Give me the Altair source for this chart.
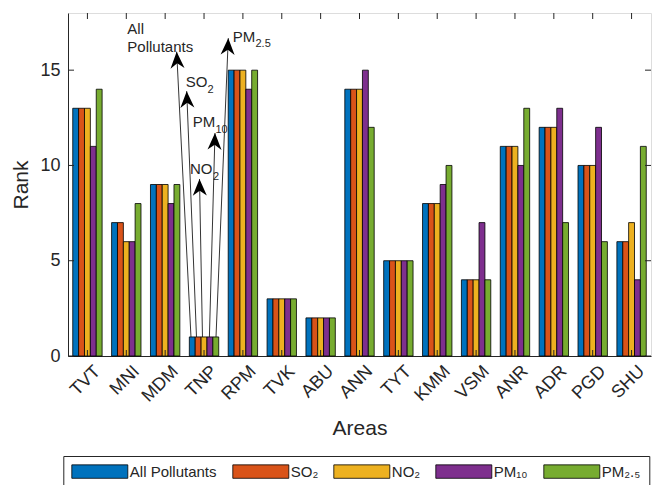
import math
import altair as alt
import pandas as pd

# ---------------- data ----------------
areas = ["TVT", "MNI", "MDM", "TNP", "RPM", "TVK", "ABU", "ANN", "TYT", "KMM",
         "VSM", "ANR", "ADR", "PGD", "SHU"]
series = ["All Pollutants", "SO₂", "NO₂", "PM₁₀", "PM₂.₅"]
all_pollutants = [13, 7, 9, 1, 15, 3, 2, 14, 5, 8, 4, 11, 12, 10, 6]
so2 = [13, 7, 9, 1, 15, 3, 2, 14, 5, 8, 4, 11, 12, 10, 6]
no2 = [13, 6, 9, 1, 15, 3, 2, 14, 5, 8, 4, 11, 12, 10, 7]
pm10 = [11, 6, 8, 1, 14, 3, 2, 15, 5, 9, 7, 10, 13, 12, 4]
pm25 = [14, 8, 9, 1, 15, 3, 2, 12, 5, 10, 4, 13, 7, 6, 11]
colors = ["#0072BD", "#D95319", "#EDB120", "#7E2F8E", "#77AC30"]

y_ticks = [0, 5, 10, 15]

# annotation arrows (data coordinates: x = category position 1..15, y = rank)
arrow_tail_x = [3.664, 3.806, 3.960, 4.138, 4.308]
arrow_tail_y = [1, 1, 1, 1, 1]
arrow_head_x = [3.296, 3.554, 3.883, 4.282, 4.624]
arrow_head_y = [15.97, 13.90, 9.29, 11.70, 16.68]
# annotation texts (main part) and their subscripts
text_labels = ["All", "Pollutants", "SO", "PM", "NO", "PM"]
text_x = [2.026, 2.026, 3.528, 3.708, 3.639, 4.737]
text_y = [16.88, 15.93, 14.13, 12.03, 9.53, 16.49]
sub_labels = ["2", "10", "2", "2.5"]
sub_x = [4.089, 4.295, 4.230, 5.324]
sub_y = [13.79, 11.70, 9.24, 16.19]

# ---------------- layout ----------------
W, H = 583, 343
FONT = "Liberation Sans"
INK = "#262626"
y_dom = [0, 18]
x_dom = [0.5, 15.5]

values = [all_pollutants, so2, no2, pm10, pm25]
rows = []
for s, vals in zip(series, values):
    for a, v in zip(areas, vals):
        rows.append({"Area": a, "Series": s, "Rank": v})
df = pd.DataFrame(rows)

arrows = pd.DataFrame({"tx": arrow_tail_x, "ty": arrow_tail_y,
                       "hx": arrow_head_x, "hy": arrow_head_y})
px_x = W / (x_dom[1] - x_dom[0])
px_y = H / (y_dom[1] - y_dom[0])
arrows["angle"] = [
    math.degrees(math.atan2((hx - tx) * px_x, (hy - ty) * px_y)) % 360
    for tx, ty, hx, hy in zip(arrows.tx, arrows.ty, arrows.hx, arrows.hy)
]
texts = pd.DataFrame({"label": text_labels, "x": text_x, "y": text_y})
subs = pd.DataFrame({"label": sub_labels, "x": sub_x, "y": sub_y})
xticks_df = pd.DataFrame({"i": list(range(1, len(areas) + 1))})
yticks_df = pd.DataFrame({"v": y_ticks})

yscale = alt.Scale(domain=y_dom, nice=False, zero=False)
xq = alt.Scale(domain=x_dom, nice=False, zero=False)

bars = alt.Chart(df).mark_bar(stroke="black", strokeWidth=0.8, opacity=1).encode(
    x=alt.X("Area:N", sort=areas,
            scale=alt.Scale(paddingInner=0.244, paddingOuter=0.122),
            axis=alt.Axis(title="Areas", labelAngle=-45, labelAlign="right",
                          labelBaseline="top", labelPadding=6, labelOffset=4,
                          tickSize=0,
                          labelFontSize=18, titleFontSize=21, titlePadding=12,
                          domainColor=INK, labelColor=INK, titleColor=INK,
                          titleFontWeight="normal", labelFont=FONT, titleFont=FONT)),
    xOffset=alt.XOffset("Series:N", sort=series,
                        scale=alt.Scale(paddingInner=0, paddingOuter=0)),
    y=alt.Y("Rank:Q", scale=yscale,
            axis=alt.Axis(title="Rank", values=y_ticks, tickSize=0, labelPadding=8,
                          labelFontSize=18, titleFontSize=21, titlePadding=8,
                          domainColor=INK, labelColor=INK, titleColor=INK,
                          titleFontWeight="normal", grid=False,
                          labelFont=FONT, titleFont=FONT)),
    color=alt.Color("Series:N", sort=series,
                    scale=alt.Scale(domain=series, range=colors),
                    legend=alt.Legend(title=None, orient="none", legendX=-4.7, legendY=443,
                                      direction="horizontal", columns=5,
                                      symbolType="M-4,-0.96L4,-0.96L4,0.96L-4,0.96Z",
                                      symbolSize=196, symbolOffset=21,
                                      symbolStrokeColor="black",
                                      symbolStrokeWidth=0.8, symbolOpacity=1,
                                      labelFontSize=15, labelFont=FONT, labelColor=INK,
                                      labelOffset=22.5, columnPadding=13,
                                      strokeColor=INK, fillColor="white", padding=8)),
)

arrow_lines = alt.Chart(arrows).mark_rule(color="black", strokeWidth=0.8).encode(
    x=alt.X("tx:Q", scale=xq, axis=None),
    y=alt.Y("ty:Q", scale=yscale, axis=None),
    x2="hx:Q", y2="hy:Q",
)

heads = alt.Chart(arrows).mark_point(
    shape="M0,0L0.42,1L0,0.7L-0.42,1Z", filled=True, color="black",
    opacity=1, size=1115, strokeWidth=0,
).encode(
    x=alt.X("hx:Q", scale=xq, axis=None),
    y=alt.Y("hy:Q", scale=yscale, axis=None),
    angle=alt.Angle("angle:Q", scale=None),
)

labels = alt.Chart(texts).mark_text(
    align="left", baseline="alphabetic", fontSize=15, font=FONT, color=INK,
).encode(
    x=alt.X("x:Q", scale=xq, axis=None),
    y=alt.Y("y:Q", scale=yscale, axis=None),
    text="label:N",
)

sub_marks = alt.Chart(subs).mark_text(
    align="left", baseline="alphabetic", fontSize=11, font=FONT, color=INK,
).encode(
    x=alt.X("x:Q", scale=xq, axis=None),
    y=alt.Y("y:Q", scale=yscale, axis=None),
    text="label:N",
)

tick_len = 6
bottom_ticks = alt.Chart(xticks_df).mark_rule(color=INK, strokeWidth=1).encode(
    x=alt.X("i:Q", scale=xq, axis=None), y=alt.value(H), y2=alt.value(H - tick_len))
top_ticks = alt.Chart(xticks_df).mark_rule(color=INK, strokeWidth=1).encode(
    x=alt.X("i:Q", scale=xq, axis=None), y=alt.value(0), y2=alt.value(tick_len))
left_ticks = alt.Chart(yticks_df).mark_rule(color=INK, strokeWidth=1).encode(
    y=alt.Y("v:Q", scale=yscale, axis=None), x=alt.value(0), x2=alt.value(tick_len))
right_ticks = alt.Chart(yticks_df).mark_rule(color=INK, strokeWidth=1).encode(
    y=alt.Y("v:Q", scale=yscale, axis=None), x=alt.value(W - tick_len), x2=alt.value(W))

chart = alt.layer(
    bars, arrow_lines, heads, labels, sub_marks,
    bottom_ticks, top_ticks, left_ticks, right_ticks
).resolve_scale(x="independent").resolve_axis(y="independent").properties(
    width=W, height=H,
    autosize=alt.AutoSizeParams(type="none"),
    padding={"left": 68, "top": 13, "right": 6, "bottom": 129},
).configure_view(stroke=INK, strokeWidth=1).configure(background="white")

chart.save("out.html", embed_options={"renderer": "svg", "actions": False})
